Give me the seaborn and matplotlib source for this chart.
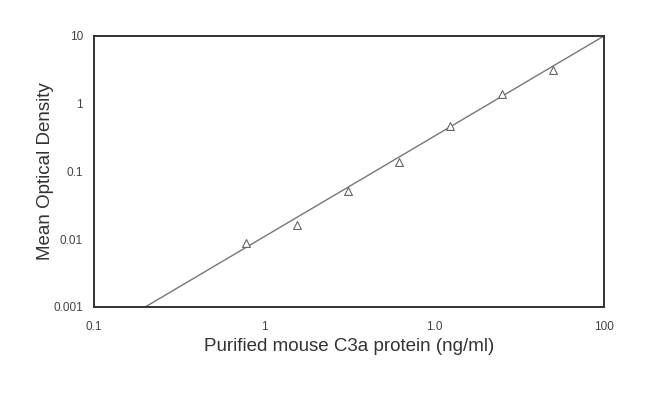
import numpy as np
import pandas as pd
import matplotlib
matplotlib.use("Agg")
import matplotlib.pyplot as plt
import seaborn as sns

# standard curve values
conc = [0.78, 1.56, 3.125, 6.25, 12.5, 25, 50]
od = [0.0088, 0.016, 0.052, 0.14, 0.47, 1.4, 3.15]

# fitted line endpoints
fit_x = [0.2, 100]
fit_y = [0.001, 10]

x_ticks = [0.1, 1, 10, 100]
x_tick_labels = ["0.1", "1", "1.0", "100"]
y_ticks = [0.001, 0.01, 0.1, 1, 10]
y_tick_labels = ["0.001", "0.01", "0.1", "1", "10"]

sns.set_style("white")
plt.rcParams['font.family'] = ['Liberation Sans', 'DejaVu Sans']

points = pd.DataFrame({"conc": conc, "od": od})
fit = pd.DataFrame({"x": fit_x, "y": fit_y})

fig = plt.figure(figsize=(6.5, 3.95), dpi=100)
ax = fig.add_axes([0.1446, 0.2228, 0.7846, 0.6861])

sns.lineplot(data=fit, x="x", y="y", ax=ax, color="#777777", linewidth=1.0)
sns.scatterplot(data=points, x="conc", y="od", ax=ax, marker="^", s=32,
                facecolor="white", edgecolor="#666666", linewidth=0.8, zorder=3)

ax.set_xscale("log")
ax.set_yscale("log")
ax.set_xlim(0.1, 100)
ax.set_ylim(0.001, 10)
ax.set_xticks(x_ticks)
ax.set_xticklabels(x_tick_labels)
ax.set_yticks(y_ticks)
ax.set_yticklabels(y_tick_labels)
ax.minorticks_off()
ax.tick_params(axis="both", length=0, labelsize=8.5, colors="#444444")
ax.tick_params(axis="x", pad=10)
ax.tick_params(axis="y", pad=8)

for s in ax.spines.values():
    s.set_color("#333333")
    s.set_linewidth(1.4)

ax.set_xlabel("Purified mouse C3a protein (ng/ml)", fontsize=13.5, color="#333333", labelpad=4)
ax.set_ylabel("Mean Optical Density", fontsize=13.5, color="#333333")
ax.yaxis.set_label_coords(-0.078, 0.5)

fig.savefig("out.png", dpi=100)
